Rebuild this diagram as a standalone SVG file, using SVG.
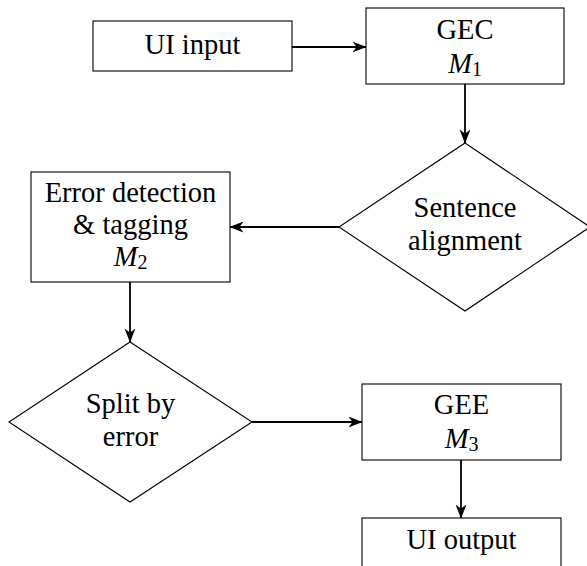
<svg xmlns="http://www.w3.org/2000/svg" width="587" height="566" viewBox="0 0 587 566">
  <style>
    .box { fill: #ffffff; stroke: #000000; stroke-width: 1.1; }
    .edge { fill: none; stroke: #000000; stroke-width: 1.8; marker-end: url(#head); }
    text { font-family: "Liberation Serif", "Times New Roman", serif; font-size: 28.5px; fill: #000000; text-anchor: middle; }
    .math { font-style: italic; }
    .sub { font-style: normal; font-size: 20px; }
  </style>
  <defs>
    <marker id="head" viewBox="0 0 14 12" refX="13.5" refY="6" markerWidth="14" markerHeight="12" markerUnits="userSpaceOnUse" orient="auto">
      <path d="M0,0.5 L14,6 L0,11.5 L4,6 Z" fill="#000000"/>
    </marker>
  </defs>
  <rect width="587" height="566" fill="#ffffff"/>

  <g id="connectors">
    <line class="edge" x1="292" y1="47" x2="366" y2="47"/>
    <line class="edge" x1="465" y1="84" x2="465" y2="143"/>
    <line class="edge" x1="339" y1="227" x2="230" y2="227"/>
    <line class="edge" x1="130" y1="282" x2="130" y2="342"/>
    <line class="edge" x1="252" y1="422" x2="362" y2="422"/>
    <line class="edge" x1="461" y1="460" x2="461" y2="518"/>
  </g>

  <g id="ui-input">
    <rect class="box" x="93" y="21" width="199" height="50"/>
    <text x="192.5" y="54">UI input</text>
  </g>

  <g id="gec">
    <rect class="box" x="366" y="8" width="198" height="76"/>
    <text x="465" y="39">GEC</text>
    <text x="465" y="73"><tspan class="math">M</tspan><tspan class="sub" dy="3">1</tspan></text>
  </g>

  <g id="sentence-alignment">
    <polygon class="box" points="465,143 590,227 465,311 339,227"/>
    <text x="465" y="217">Sentence</text>
    <text x="465" y="250">alignment</text>
  </g>

  <g id="error-detection">
    <rect class="box" x="31" y="172" width="199" height="110"/>
    <text x="130.5" y="202">Error detection</text>
    <text x="130.5" y="234">&amp; tagging</text>
    <text x="130.5" y="266"><tspan class="math">M</tspan><tspan class="sub" dy="3">2</tspan></text>
  </g>

  <g id="split-by-error">
    <polygon class="box" points="130,342 252,422 130,502 9,422"/>
    <text x="130.5" y="413">Split by</text>
    <text x="130.5" y="446">error</text>
  </g>

  <g id="gee">
    <rect class="box" x="362" y="384" width="199" height="76"/>
    <text x="461.5" y="414">GEE</text>
    <text x="461.5" y="448"><tspan class="math">M</tspan><tspan class="sub" dy="3">3</tspan></text>
  </g>

  <g id="ui-output">
    <rect class="box" x="362" y="518" width="199" height="60"/>
    <text x="461.5" y="549">UI output</text>
  </g>
</svg>
